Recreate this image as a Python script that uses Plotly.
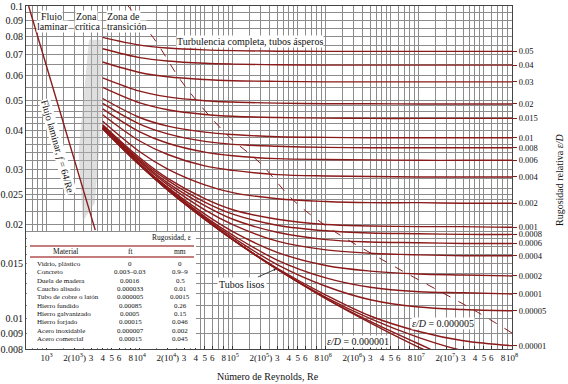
import math
import plotly.graph_objects as go

# ---------------- data ----------------
re_points = [4e3, 1e4, 2e4, 5e4, 1e5, 3e5, 1e6, 3e6, 1e7, 3e7, 1e8]

f_rough_0_05 = [0.0794, 0.0750, 0.0734, 0.0724, 0.0720, 0.0717, 0.0716, 0.0716, 0.0716, 0.0716, 0.0716]
f_rough_0_04 = [0.0730, 0.0684, 0.0667, 0.0656, 0.0652, 0.0649, 0.0647, 0.0647, 0.0647, 0.0647, 0.0647]
f_rough_0_03 = [0.0662, 0.0613, 0.0594, 0.0582, 0.0577, 0.0574, 0.0572, 0.0572, 0.0572, 0.0572, 0.0572]
f_rough_0_02 = [0.0589, 0.0534, 0.0512, 0.0498, 0.0493, 0.0489, 0.0487, 0.0487, 0.0486, 0.0486, 0.0486]
f_rough_0_015 = [0.0549, 0.0490, 0.0466, 0.0450, 0.0444, 0.0440, 0.0438, 0.0437, 0.0437, 0.0437, 0.0437]
f_rough_0_01 = [0.0506, 0.0440, 0.0413, 0.0395, 0.0388, 0.0382, 0.0380, 0.0379, 0.0379, 0.0379, 0.0379]
f_rough_0_008 = [0.0488, 0.0419, 0.0390, 0.0369, 0.0361, 0.0356, 0.0353, 0.0352, 0.0352, 0.0352, 0.0352]
f_rough_0_006 = [0.0469, 0.0396, 0.0364, 0.0341, 0.0332, 0.0325, 0.0323, 0.0322, 0.0321, 0.0321, 0.0321]
f_rough_0_004 = [0.0449, 0.0370, 0.0335, 0.0308, 0.0298, 0.0289, 0.0286, 0.0285, 0.0284, 0.0284, 0.0284]
f_rough_0_002 = [0.0428, 0.0342, 0.0301, 0.0268, 0.0253, 0.0242, 0.0237, 0.0235, 0.0235, 0.0234, 0.0234]
f_rough_0_001 = [0.0417, 0.0327, 0.0281, 0.0242, 0.0223, 0.0208, 0.0200, 0.0198, 0.0197, 0.0197, 0.0196]
f_rough_0_0008 = [0.0415, 0.0323, 0.0277, 0.0236, 0.0216, 0.0199, 0.0191, 0.0188, 0.0187, 0.0186, 0.0186]
f_rough_0_0006 = [0.0412, 0.0320, 0.0272, 0.0230, 0.0208, 0.0189, 0.0179, 0.0176, 0.0175, 0.0174, 0.0174]
f_rough_0_0004 = [0.0410, 0.0317, 0.0268, 0.0223, 0.0200, 0.0177, 0.0166, 0.0162, 0.0160, 0.0159, 0.0159]
f_rough_0_0002 = [0.0408, 0.0313, 0.0263, 0.0216, 0.0190, 0.0163, 0.0148, 0.0142, 0.0139, 0.0138, 0.0137]
f_rough_0_0001 = [0.0407, 0.0312, 0.0261, 0.0212, 0.0185, 0.0154, 0.0135, 0.0126, 0.0122, 0.0121, 0.0120]
f_rough_0_00005 = [0.0406, 0.0311, 0.0259, 0.0210, 0.0182, 0.0149, 0.0127, 0.0115, 0.0109, 0.0107, 0.0106]
f_rough_0_00001 = [0.0406, 0.0310, 0.0258, 0.0208, 0.0179, 0.0145, 0.0119, 0.0102, 0.0091, 0.0085, 0.0082]
f_rough_0_000005 = [0.0406, 0.0310, 0.0258, 0.0208, 0.0179, 0.0144, 0.0117, 0.0100, 0.0087, 0.0079, 0.0075]
f_rough_0_000001 = [0.0405, 0.0310, 0.0258, 0.0208, 0.0179, 0.0144, 0.0116, 0.0098, 0.0083, 0.0072, 0.0065]
f_smooth = [0.0406, 0.0310, 0.0258, 0.0208, 0.0179, 0.0144, 0.0116, 0.0097, 0.0081, 0.0070, 0.0060]

rough_labels = ["0.05", "0.04", "0.03", "0.02", "0.015", "0.01", "0.008", "0.006", "0.004",
                "0.002", "0.001", "0.0008", "0.0006", "0.0004", "0.0002", "0.0001",
                "0.00005", "0.00001"]
rough_curves = [f_rough_0_05, f_rough_0_04, f_rough_0_03, f_rough_0_02, f_rough_0_015,
                f_rough_0_01, f_rough_0_008, f_rough_0_006, f_rough_0_004, f_rough_0_002,
                f_rough_0_001, f_rough_0_0008, f_rough_0_0006, f_rough_0_0004, f_rough_0_0002,
                f_rough_0_0001, f_rough_0_00005, f_rough_0_00001]
extra_curves = [f_rough_0_000005, f_rough_0_000001, f_smooth]

laminar_re = [640, 3330]
laminar_f = [0.1, 0.0192]

boundary_re = [7500, 14600, 29000, 87000, 196000, 443000, 1.03e6, 4.1e6, 3.8e7, 1e8]
boundary_f = [0.1, 0.0778, 0.0567, 0.0387, 0.0315, 0.0240, 0.0197, 0.0154, 0.0107, 0.0090]

critical_re = [2850, 3900, 3800, 3300, 2450, 2200, 2850]
critical_f = [0.078, 0.078, 0.040, 0.0235, 0.0205, 0.034, 0.078]

left_tick_vals = [0.008, 0.009, 0.01, 0.015, 0.02, 0.025, 0.03, 0.04, 0.05, 0.06, 0.07, 0.08, 0.09, 0.1]
left_tick_text = ["0.008", "0.009", "0.01", "0.015", "0.02", "0.025", "0.03", "0.04", "0.05",
                  "0.06", "0.07", "0.08", "0.09", "0.1"]

bottom_tick_mult = [1, 2, 3, 4, 5, 6, 8]
bottom_decades = [3, 4, 5, 6, 7]

table_materials = ["Vidrio, plástico", "Concreto", "Duela de madera", "Caucho alisado",
                   "Tubo de cobre o latón", "Hierro fundido", "Hierro galvanizado",
                   "Hierro forjado", "Acero inoxidable", "Acero comercial"]
table_ft = ["0", "0.003–0.03", "0.0016", "0.000033", "0.000005", "0.00085", "0.0005",
            "0.00015", "0.000007", "0.00015"]
table_mm = ["0", "0.9–9", "0.5", "0.01", "0.0015", "0.26", "0.15", "0.046", "0.002", "0.045"]

# ---------------- styling ----------------
W, H = 568, 384
PL, PR, PT, PB = 26, 512, 6, 349
SERIF = "Liberation Serif, Times New Roman, serif"
RED = "#8b1a1a"
GRID = "#8c8c8c"


def px(x):
    return (x - PL) / (PR - PL)


def py(y):
    return (PB - y) / (PB - PT)


# ticks
x_tickvals, x_ticktext = [], []
for d in bottom_decades:
    for m in bottom_tick_mult:
        x_tickvals.append(m * 10 ** d)
        if m == 1:
            x_ticktext.append("10<sup>%d</sup>" % d)
        elif m == 2:
            x_ticktext.append("2(10<sup>%d</sup>)" % d)
        else:
            x_ticktext.append(str(m))
x_tickvals.append(1e8)
x_ticktext.append("10<sup>8</sup>")

x_minor = [7e2, 8e2, 9e2]
for d in [3, 4, 5, 6, 7]:
    for m in [1.5, 2.5, 3.5, 4.5, 7, 9]:
        x_minor.append(m * 10 ** d)

y_minor = []
for k in range(11, 20):
    if k != 15:
        y_minor.append(k / 1000)
for k in [22, 24, 26, 28, 32, 34, 36, 38, 42, 44, 46, 48]:
    y_minor.append(k / 1000)
for k in [55, 65, 75, 85, 95]:
    y_minor.append(k / 1000)

fig = go.Figure()

# critical zone shading
fig.add_trace(go.Scatter(x=critical_re, y=critical_f, mode="none", fill="toself",
                         fillcolor="rgba(185,185,185,0.45)", hoverinfo="skip", showlegend=False))

# roughness curves
for curve in rough_curves + extra_curves:
    fig.add_trace(go.Scatter(x=re_points, y=curve, mode="lines",
                             line=dict(color=RED, width=1.4, shape="spline", smoothing=1),
                             showlegend=False, hoverinfo="skip"))

# laminar
fig.add_trace(go.Scatter(x=laminar_re, y=laminar_f, mode="lines",
                         line=dict(color=RED, width=1.4), showlegend=False))

# boundary of complete turbulence
fig.add_trace(go.Scatter(x=boundary_re, y=boundary_f, mode="lines",
                         line=dict(color=RED, width=1, dash="dash", shape="spline"),
                         showlegend=False))

# right axis anchor trace
fig.add_trace(go.Scatter(x=[1e8] * len(rough_curves), y=[c[-1] for c in rough_curves],
                         mode="markers", marker=dict(opacity=0), yaxis="y2",
                         showlegend=False, hoverinfo="skip"))

yr = [math.log10(0.008), math.log10(0.1)]
fig.update_layout(
    width=W, height=H,
    margin=dict(l=PL, r=W - PR, t=PT, b=H - PB),
    paper_bgcolor="white", plot_bgcolor="white",
    font=dict(family=SERIF, size=10, color="#111"),
    xaxis=dict(type="log", range=[math.log10(600), 8], tickmode="array", automargin=False,
               tickvals=x_tickvals, ticktext=x_ticktext, ticks="inside", ticklen=3,
               tickangle=0,
               tickcolor="#333", showgrid=True, gridcolor=GRID, gridwidth=0.8,
               showline=True, linecolor="#444", linewidth=1, mirror=True,
               tickfont=dict(family=SERIF, size=9, color="#111"), zeroline=False,
               minor=dict(tickmode="array", tickvals=x_minor, showgrid=True,
                          gridcolor=GRID, gridwidth=0.8, ticks="")),
    yaxis=dict(type="log", range=yr, tickmode="array", tickvals=left_tick_vals, automargin=False,
               ticktext=left_tick_text, ticks="", showgrid=True, gridcolor=GRID,
               gridwidth=0.8, showline=True, linecolor="#444", linewidth=1, mirror=True,
               tickfont=dict(family=SERIF, size=10, color="#111"), zeroline=False,
               minor=dict(tickmode="array", tickvals=y_minor, showgrid=True,
                          gridcolor=GRID, gridwidth=0.8, ticks="")),
    yaxis2=dict(type="log", range=yr, overlaying="y", side="right", anchor="x", automargin=False,
                tickmode="array", tickvals=[c[-1] for c in rough_curves],
                ticktext=rough_labels, ticks="outside", ticklen=4, tickcolor=RED,
                showgrid=False, zeroline=False,
                tickfont=dict(family=SERIF, size=8.5, color="#111")),
)

ann = []


def text(x, y, t, size=10, bg=None, angle=0, xanchor="center", **kw):
    d = dict(x=px(x), y=py(y), xref="paper", yref="paper", text=t, showarrow=False,
             font=dict(family=SERIF, size=size, color="#111"), xanchor=xanchor,
             yanchor="middle", textangle=angle)
    if bg:
        d["bgcolor"] = bg
        d["borderpad"] = 0
    d.update(kw)
    ann.append(d)


text(51, 17, "Flujo", bg="white")
text(52, 27, "laminar", bg="white")
text(86, 17, "Zona", bg="white")
text(88, 27, "crítica", bg="white")
text(123, 17, "Zona de", bg="white")
text(126, 27, "transición", bg="white")
text(250, 41, "Turbulencia completa, tubos ásperos", bg="white")
text(58, 146, "Flujo laminar, <i>f</i> = 64/Re", bg="white", angle=74)
text(443, 323, "<i>ε/D</i> = 0.000005", bg="white")
text(358, 341, "<i>ε/D</i> = 0.000001", bg="white")
text(268, 376, "Número de Reynolds, Re", size=10)
text(559, 180, "Rugosidad relativa <i>ε/D</i>", size=10, angle=-90)

# Tubos lisos with arrow
ann.append(dict(x=px(276), y=py(269), xref="paper", yref="paper", text="Tubos lisos",
                showarrow=True, arrowhead=2, arrowsize=0.6, arrowwidth=0.8, arrowcolor="#222",
                ax=-34, ay=15, font=dict(family=SERIF, size=10, color="#111"), bgcolor="white"))

# table
shapes = [dict(type="rect", xref="paper", yref="paper", x0=px(27), x1=px(196),
               y0=py(348), y1=py(232), fillcolor="white", line=dict(width=0), layer="above"),
          dict(type="line", xref="paper", yref="paper", x0=px(30), x1=px(194),
               y0=py(246), y1=py(246), line=dict(color="#b05050", width=1.3), layer="above"),
          dict(type="line", xref="paper", yref="paper", x0=px(30), x1=px(194),
               y0=py(257), y1=py(257), line=dict(color="#b05050", width=1.3), layer="above")]

text(193, 238, "Rugosidad, ε", size=7.5, xanchor="right")
text(65, 251.5, "Material", size=7.5)
text(130, 251.5, "ft", size=7.5)
text(180, 251.5, "mm", size=7.5)
for i, (m, a, b) in enumerate(zip(table_materials, table_ft, table_mm)):
    yy = 264 + i * 8.35
    text(35, yy, m, size=7, xanchor="left")
    text(130, yy, a, size=7)
    text(180, yy, b, size=7)

fig.update_layout(annotations=ann, shapes=shapes)
fig.write_html("out.html", config={"displayModeBar": False},
               post_script="document.body.style.margin='0';")
